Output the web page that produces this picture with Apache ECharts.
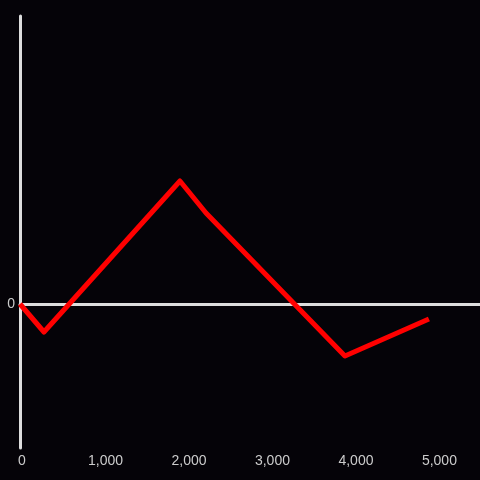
<!DOCTYPE html>
<html>
<head>
<meta charset="utf-8">
<script src="https://cdn.jsdelivr.net/npm/echarts@6/dist/echarts.min.js"></script>
<style>
html, body { margin: 0; padding: 0; background: #050308; }
#chart { width: 480px; height: 480px; }
</style>
</head>
<body>
<div id="chart"></div>
<script>
// points
var xValues = [0, 287, 1916, 2228, 3892, 4898];
var yValues = [0, -28, 123, 91, -52, -15];
var xTicks = [0, 1000, 2000, 3000, 4000, 5000];

function buildData() {
	var data = [];
	for (var i = 0; i < xValues.length; i++) {
		data.push([xValues[i], yValues[i]]);
	}
	return data;
}

var myChart = echarts.init(document.getElementById('chart'));
var option = {
	backgroundColor: '#050308',
	animation: false,
	grid: {
		left: 20,
		right: 0,
		top: 16,
		bottom: 32
	},
	xAxis: [{
		type: 'value',
		min: 0,
		max: 5510,
		interval: 1000,
		position: 'bottom',
		axisLine: { show: false, onZero: false },
		axisTick: { show: false },
		splitLine: { show: false },
		axisLabel: {
			color: '#cccccc',
			fontSize: 14,
			margin: 6,
			padding: [0, 0, 0, 4],
			showMaxLabel: false,
			formatter: function (v) {
				return xTicks.indexOf(v) >= 0 ? v.toLocaleString('en-US') : '';
			}
		}
	}, {
		// the white line through zero
		type: 'value',
		min: 0,
		max: 5510,
		position: 'bottom',
		axisLine: { show: true, onZero: true, lineStyle: { color: '#dddddd', width: 3 } },
		axisTick: { show: false },
		splitLine: { show: false },
		axisLabel: { show: false }
	}],
	yAxis: {
		type: 'value',
		min: -144,
		max: 288,
		interval: 144,
		axisLine: { show: true, lineStyle: { color: '#dddddd', width: 3 } },
		axisTick: { show: false },
		splitLine: { show: false },
		axisLabel: {
			color: '#cccccc',
			fontSize: 14,
			margin: 5,
			formatter: function (v) {
				return v === 0 ? '0' : '';
			}
		}
	},
	series: [{
		type: 'line',
		xAxisIndex: 0,
		data: buildData(),
		symbol: 'none',
		lineStyle: {
			color: '#ff0000',
			width: 5,
			cap: 'butt',
			join: 'round'
		}
	}]
};
myChart.setOption(option);
</script>
</body>
</html>
